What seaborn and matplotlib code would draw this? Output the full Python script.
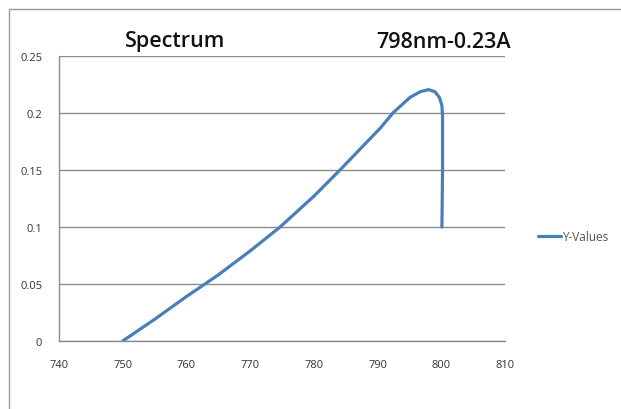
import matplotlib
matplotlib.use("Agg")
import matplotlib.pyplot as plt
import seaborn as sns
import pandas as pd
from matplotlib.patches import Rectangle

# Data
wavelength = [750.0, 755.0, 760.0, 762.9, 765.0, 770.0, 774.7, 780.0, 784.1,
              788.0, 790.4, 792.5, 795.1, 796.7, 798.0, 799.0, 799.7, 800.1,
              800.2, 800.2, 800.1]
intensity = [0.0, 0.019, 0.039, 0.050, 0.058, 0.079, 0.100, 0.127, 0.150,
             0.1727, 0.1866, 0.2006, 0.2137, 0.2187, 0.2205, 0.2187, 0.2137,
             0.2064, 0.1976, 0.150, 0.100]
x_ticks = [740, 750, 760, 770, 780, 790, 800, 810]
y_ticks = [0, 0.05, 0.1, 0.15, 0.2, 0.25]
y_tick_labels = ["0", "0.05", "0.1", "0.15", "0.2", "0.25"]
series_name = "Y-Values"
title_left = "Spectrum"
title_right = "798nm-0.23A"

sns.set_theme(style="white")
plt.rcParams["font.family"] = ["Open Sans", "DejaVu Sans"]
plt.rcParams["lines.solid_joinstyle"] = "round"
plt.rcParams["lines.solid_capstyle"] = "round"

W, H = 621, 410
fig = plt.figure(figsize=(W / 100, H / 100), dpi=100)
fig.patch.set_facecolor("white")

# outer chart border (only top/left visible, rest is cropped)
fig.add_artist(Rectangle((9 / W, -0.05), 1.1, 1 - 10 / H + 0.05,
                         transform=fig.transFigure, fill=False,
                         edgecolor="#9a9a9a", linewidth=1.0))

ax = fig.add_axes([59 / W, 1 - 342 / H, (505 - 59) / W, (342 - 57) / H])

df = pd.DataFrame({"x": wavelength, "y": intensity})
sns.lineplot(data=df, x="x", y="y", sort=False, estimator=None,
             errorbar=None, ax=ax, color="#4a7ebb",
             linewidth=2.3, label=series_name, legend=False)

ax.set_xlim(740, 810)
ax.set_ylim(0, 0.25)
ax.set_xticks(x_ticks)
ax.set_xticklabels([str(t) for t in x_ticks])
ax.set_yticks(y_ticks)
ax.set_yticklabels(y_tick_labels)
ax.set_xlabel("")
ax.set_ylabel("")

ax.grid(axis="y", color="#8c8c8c", linewidth=1.0)
ax.grid(axis="x", visible=False)
ax.set_axisbelow(True)
for s in ["top", "right"]:
    ax.spines[s].set_visible(False)
for s in ["left", "bottom"]:
    ax.spines[s].set_visible(True)
    ax.spines[s].set_color("#8c8c8c")
    ax.spines[s].set_linewidth(1.0)

ax.tick_params(axis="both", which="major", direction="out", length=5,
               width=1, color="#8c8c8c", labelsize=8, labelcolor="#333333")
ax.tick_params(axis="x", pad=8)
ax.tick_params(axis="y", pad=7)

fig.text(175 / W, 1 - 42 / H, title_left, ha="center", va="center",
         fontsize=15.5, fontweight="semibold", color="#111111")
fig.text(444 / W, 1 - 42 / H, title_right, ha="center", va="center",
         fontsize=15.5, fontweight="semibold", color="#111111")

handles, labels = ax.get_legend_handles_labels()
fig.legend(handles, labels, loc="center left",
           bbox_to_anchor=(533 / W, 1 - 238 / H), frameon=False,
           fontsize=8.5, handlelength=2.0, handletextpad=0.1,
           labelcolor="#555555", borderaxespad=0)

fig.savefig("out.png", dpi=100, facecolor="white")
